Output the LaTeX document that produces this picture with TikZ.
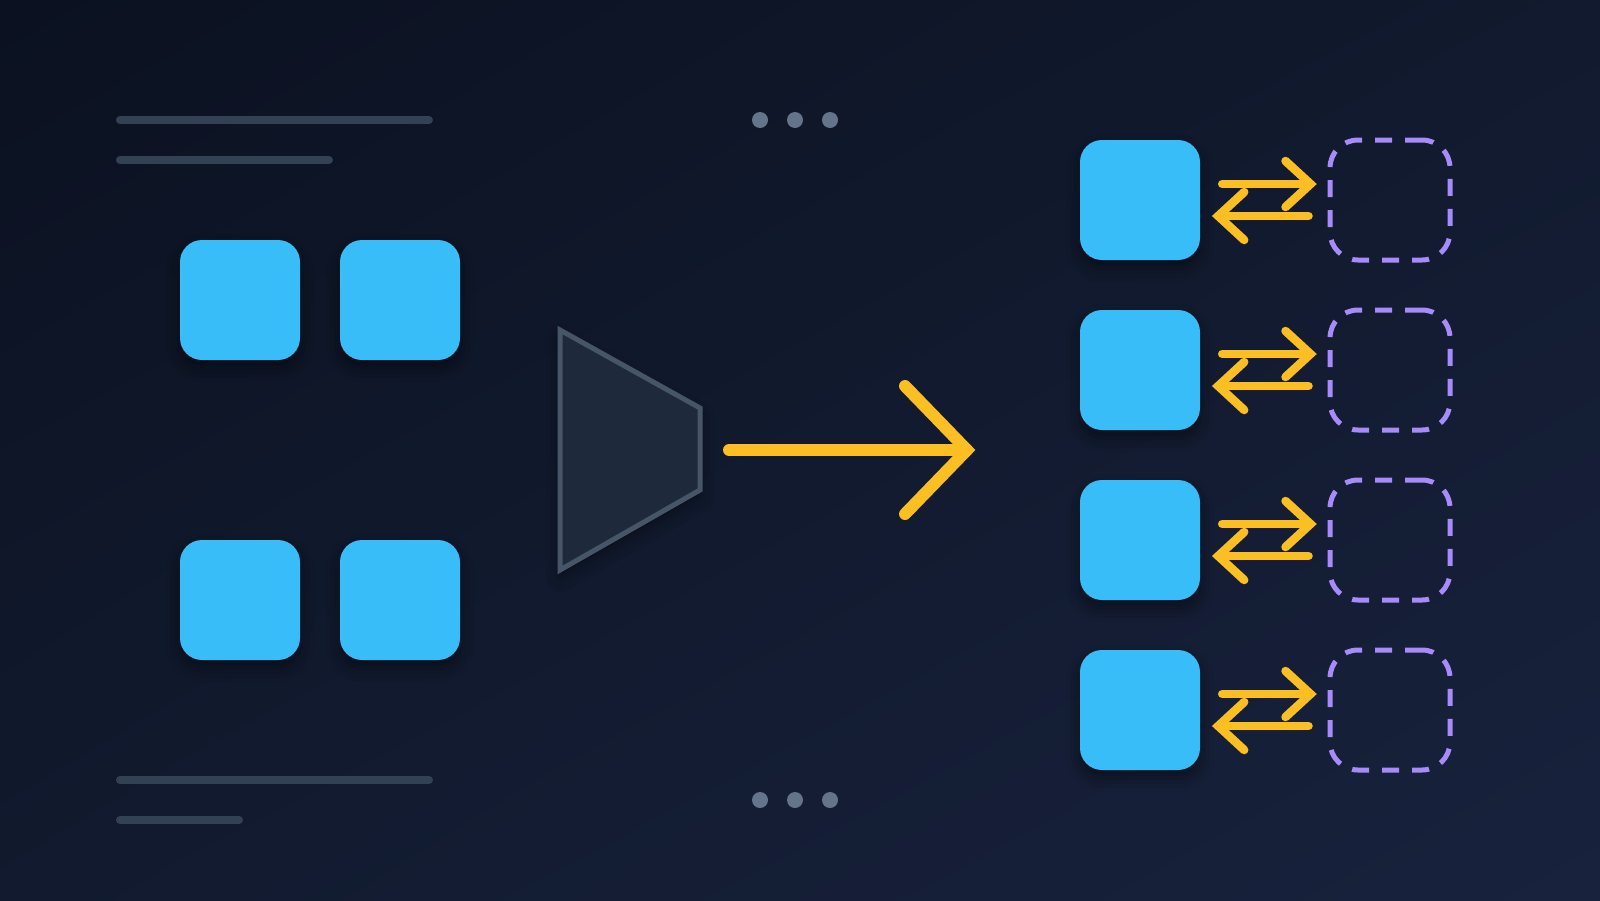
\documentclass[tikz,border=0pt]{standalone}
\usetikzlibrary{shadows.blur,shadings,calc}
\definecolor{bgA}{HTML}{0B1120}
\definecolor{bgM}{HTML}{111A2E}
\definecolor{bgB}{HTML}{18223D}
\definecolor{sky}{HTML}{38BDF8}
\definecolor{amber}{HTML}{FBBF24}
\definecolor{violetc}{HTML}{A78BFA}
\definecolor{trapfill}{HTML}{1E293B}
\definecolor{trapline}{HTML}{475569}
\definecolor{barc}{HTML}{334155}
\definecolor{dotc}{HTML}{64748B}
\tikzset{
  softshadow/.style={blur shadow={shadow xshift=0pt, shadow yshift=-8pt, shadow blur radius=14pt, shadow opacity=45}},
  sq/.style={fill=sky, rounded corners=22pt, minimum width=120pt, minimum height=120pt, inner sep=0pt, softshadow},
  ghost/.style={draw=violetc, line width=5pt, dash pattern=on 17pt off 13pt, rounded corners=28pt, minimum width=120pt, minimum height=120pt, inner sep=0pt},
  bar/.style={draw=barc, line width=8pt, line cap=round},
  dotfill/.style={fill=dotc},
  trap/.style={draw=trapline, fill=trapfill, line width=5pt, line join=miter, softshadow},
  mainarrow/.style={draw=amber, line width=12pt, line cap=round, line join=miter},
  dblarrow/.style={draw=amber, line width=8.5pt, line cap=round, line join=miter},
}
\begin{document}
\begin{tikzpicture}[x=1pt,y=-1pt]
\shade[upper left=bgA, lower right=bgB, upper right=bgM, lower left=bgM] (0,0) rectangle (1600,900);
\useasboundingbox (0,0) rectangle (1600,900);

% text placeholder bars
\draw[bar] (120,120) -- (429,120);
\draw[bar] (120,160) -- (329,160);
\draw[bar] (120,780) -- (429,780);
\draw[bar] (120,820) -- (239,820);

% dots
\foreach \x in {760,795,830}{
  \fill[dotfill] (\x,120) circle (8);
  \fill[dotfill] (\x,800) circle (8);
}

% left squares
\node[sq] (a1) at (240,300) {};
\node[sq] (a2) at (400,300) {};
\node[sq] (a3) at (240,600) {};
\node[sq] (a4) at (400,600) {};

% trapezoid
\draw[trap] (560,330) -- (700,408) -- (700,490) -- (560,570) -- cycle;
\coordinate (trapR) at (700,450);

% main arrow
\coordinate (mainS) at (729,450);
\coordinate (mainE) at (967,450);
\draw[mainarrow] (mainS) -- (mainE);
\draw[mainarrow] ($(mainE)+(-62,-64)$) -- (mainE) -- ($(mainE)+(-62,64)$);

% right column
\foreach \i in {0,1,2,3}{
  \pgfmathsetmacro{\cy}{200+170*\i}
  \node[sq] (b\i) at (1140,\cy) {};
  \node[ghost] (g\i) at (1390,\cy) {};
  % forward arrow
  \draw[dblarrow] ($(b\i.east)+(22,-16)$) -- ($(g\i.west)+(-17,-16)$);
  \draw[dblarrow] ($(g\i.west)+(-42,-39)$) -- ($(g\i.west)+(-17,-16)$) -- ($(g\i.west)+(-42,7)$);
  % backward arrow
  \draw[dblarrow] ($(g\i.west)+(-19,16)$) -- ($(b\i.east)+(18,16)$);
  \draw[dblarrow] ($(b\i.east)+(44,-8)$) -- ($(b\i.east)+(18,16)$) -- ($(b\i.east)+(44,40)$);
}
\end{tikzpicture}
\end{document}
